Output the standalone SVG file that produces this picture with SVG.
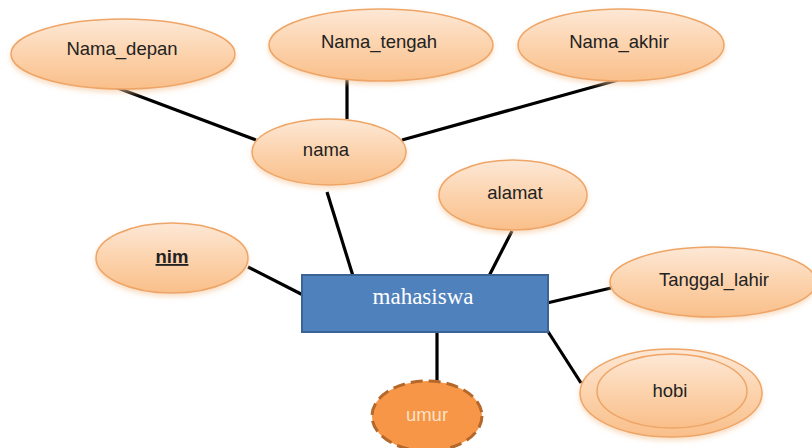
<svg xmlns="http://www.w3.org/2000/svg" width="812" height="448" viewBox="0 0 812 448">
<defs>
<linearGradient id="peach" x1="0" y1="0" x2="0" y2="1">
<stop offset="0" stop-color="#fde8d6"/>
<stop offset="0.5" stop-color="#fcd3ad"/>
<stop offset="1" stop-color="#f9bf8a"/>
</linearGradient>
<filter id="sh" x="-20%" y="-20%" width="140%" height="150%">
<feGaussianBlur in="SourceAlpha" stdDeviation="2.5"/>
<feOffset dx="0" dy="3" result="b"/>
<feFlood flood-color="#f6c89c" flood-opacity="0.6"/>
<feComposite in2="b" operator="in"/>
<feMerge><feMergeNode/><feMergeNode in="SourceGraphic"/></feMerge>
</filter>
</defs>
<style>
.attr{fill:url(#peach);stroke:#eea567;stroke-width:1.5;filter:url(#sh)}
.lbl{font-family:"Liberation Sans",Arial,sans-serif;font-size:18.5px;fill:#222;text-anchor:middle}
.conn line{stroke:#000;stroke-width:3.2}
</style>
<rect width="812" height="448" fill="#fff"/>
<g id="connectors" class="conn">
<line x1="115" y1="87" x2="256" y2="140"/>
<line x1="347" y1="79" x2="347" y2="119"/>
<line x1="618" y1="80" x2="402" y2="140"/>
<line x1="327" y1="192" x2="353" y2="276"/>
<line x1="248" y1="267" x2="303" y2="295"/>
<line x1="512" y1="231" x2="489" y2="276"/>
<line x1="547" y1="303" x2="611" y2="288"/>
<line x1="547" y1="330" x2="581" y2="383"/>
<line x1="437" y1="331" x2="437" y2="383"/>
</g>
<g id="Nama_depan"><ellipse class="attr" cx="123" cy="54" rx="112" ry="35"/><text class="lbl" x="122" y="55">Nama_depan</text></g>
<g id="Nama_tengah"><ellipse class="attr" cx="381" cy="45" rx="112" ry="36"/><text class="lbl" x="379" y="48">Nama_tengah</text></g>
<g id="Nama_akhir"><ellipse class="attr" cx="621" cy="45" rx="103" ry="36"/><text class="lbl" x="619" y="48">Nama_akhir</text></g>
<g id="nama"><ellipse class="attr" cx="329" cy="152" rx="77" ry="33"/><text class="lbl" x="326" y="156">nama</text></g>
<g id="alamat"><ellipse class="attr" cx="513" cy="195" rx="74" ry="35"/><text class="lbl" x="515" y="199">alamat</text></g>
<g id="nim"><ellipse class="attr" cx="172" cy="258" rx="76" ry="35"/><text class="lbl" x="172" y="263" font-weight="bold" text-decoration="underline">nim</text></g>
<g id="Tanggal_lahir"><ellipse class="attr" cx="713" cy="282" rx="103" ry="35"/><text class="lbl" x="714" y="286">Tanggal_lahir</text></g>
<g id="hobi"><ellipse class="attr" cx="671" cy="393" rx="91" ry="44"/><ellipse fill="url(#peach)" stroke="#eea567" stroke-width="1.5" cx="672" cy="391" rx="75" ry="37"/><text class="lbl" x="670" y="397">hobi</text></g>
<g id="umur"><ellipse cx="427" cy="416" rx="55" ry="35" fill="#f79646" stroke="#b4682b" stroke-width="3" stroke-dasharray="12 6"/><text class="lbl" x="427" y="421" style="fill:#fde2c8">umur</text></g>
<g id="mahasiswa"><rect x="302" y="275" width="246" height="57" fill="#4f81bd" stroke="#3a6496" stroke-width="2"/><text x="423" y="304" text-anchor="middle" font-family="Liberation Serif,'Times New Roman',serif" font-size="23" fill="#fff">mahasiswa</text></g>
</svg>
